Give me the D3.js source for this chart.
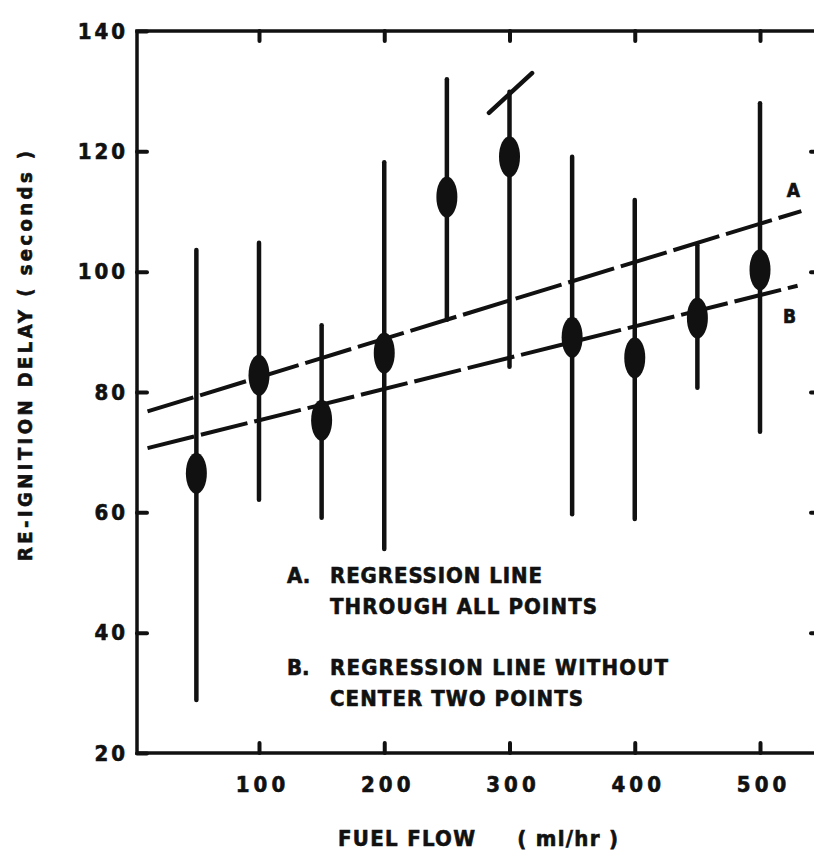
<!DOCTYPE html>
<html>
<head>
<meta charset="utf-8">
<script src="https://cdn.jsdelivr.net/npm/d3@7"></script>
<style>
    body { margin: 0; background: #fff; }
    svg text { font-family: "DejaVu Sans Condensed", "DejaVu Sans", sans-serif; font-weight: bold; fill: #111; stroke: #111; stroke-width: 0.6px; }
    .axis path { display: none; }
    .axis line { stroke: #111; stroke-width: 4; stroke-linecap: round; }
</style>
</head>
<body>
<script>

// values
var fuelFlow  = [50, 100, 150, 200, 250, 300, 350, 400, 450, 500];
var delayMean = [66.5, 82.8, 75.3, 86.5, 112.4, 119.1, 89.1, 85.7, 92.3, 100.3];
var delayHigh = [103.6, 104.8, 91.1, 118.2, 132, 129.9, 119.1, 111.9, 104.4, 128];
var delayLow  = [28.8, 62.1, 59.1, 53.9, 92, 84.2, 59.7, 58.9, 80.7, 73.4];

var xTicks = [100, 200, 300, 400, 500];
var yTicks = [20, 40, 60, 80, 100, 120, 140];

// regression lines A and B
var regNames = ["A", "B"];
var regSlope = [0.0638, 0.052];
var regIntercept = [76.07, 70.1];
var regFrom = [11, 11];
var regTo = [533, 530];

// broken-off top of the 300 bar
var breakMark = [[283.6, 126.4], [318, 133]];

var legendLines = [
    { key: "A.", lines: ["REGRESSION LINE", "THROUGH ALL POINTS"] },
    { key: "B.", lines: ["REGRESSION LINE WITHOUT", "CENTER TWO POINTS"] }
];

var width = 814, height = 850;

var svg = d3.select("body").append("svg")
    .attr("width", width)
    .attr("height", height);

var x = d3.scaleLinear().domain([2.6, 545.5]).range([137, 817]);
var y = d3.scaleLinear().domain([20, 140]).range([753, 31]);

// frame
svg.append("rect")
    .attr("x", x.range()[0])
    .attr("y", y.range()[1])
    .attr("width", x.range()[1] - x.range()[0])
    .attr("height", y.range()[0] - y.range()[1])
    .style("fill", "none")
    .style("stroke", "#111")
    .style("stroke-width", 3.5);

// bottom axis with labels
var gx = svg.append("g")
    .attr("class", "x axis")
    .attr("transform", "translate(0," + y(20) + ")")
    .call(d3.axisBottom(x).tickValues(xTicks).tickSize(-10).tickPadding(23).tickFormat(d3.format("d")));
gx.selectAll("text")
    .style("font-size", "22px")
    .style("letter-spacing", "4px")
    .attr("dx", "3px");

// top axis, ticks only
svg.append("g")
    .attr("class", "axis")
    .attr("transform", "translate(0," + y(140) + ")")
    .call(d3.axisTop(x).tickValues(xTicks).tickSize(-10).tickFormat(""));

// left axis
var gy = svg.append("g")
    .attr("class", "y axis")
    .attr("transform", "translate(" + x.range()[0] + ",0)")
    .call(d3.axisLeft(y).tickValues(yTicks).tickSize(-10).tickPadding(9).tickFormat(d3.format("d")));
gy.selectAll("text")
    .style("font-size", "22px")
    .style("letter-spacing", "3px");

// right axis, ticks only
svg.append("g")
    .attr("class", "axis")
    .attr("transform", "translate(" + x.range()[1] + ",0)")
    .call(d3.axisRight(y).tickValues(yTicks.slice(1, -1)).tickSize(-6).tickFormat(""));

// regression lines
regNames.forEach(function(name, i) {
    svg.append("line")
        .attr("class", "reg-line")
        .attr("x1", x(regFrom[i]))
        .attr("y1", y(regIntercept[i] + regSlope[i] * regFrom[i]))
        .attr("x2", x(regTo[i]))
        .attr("y2", y(regIntercept[i] + regSlope[i] * regTo[i]))
        .style("stroke", "#111")
        .style("stroke-width", 4)
        .style("stroke-dasharray", "48,7");

    svg.append("text")
        .attr("x", x(regTo[i]) - 8)
        .attr("y", y(regIntercept[i] + regSlope[i] * regTo[i]) + (i === 0 ? -14 : 37))
        .style("font-size", "19px")
        .style("text-anchor", "middle")
        .text(name);
});

// error bars
var points = fuelFlow.map(function(f, i) {
    return { flow: f, mean: delayMean[i], hi: delayHigh[i], lo: delayLow[i] };
});

svg.selectAll(".bar")
    .data(points)
    .enter().append("line")
    .attr("class", "bar")
    .attr("x1", function(d) { return x(d.flow); })
    .attr("x2", function(d) { return x(d.flow); })
    .attr("y1", function(d) { return y(d.hi); })
    .attr("y2", function(d) { return y(d.lo); })
    .style("stroke", "#111")
    .style("stroke-width", 4.5)
    .style("stroke-linecap", "round");

svg.selectAll(".dot")
    .data(points)
    .enter().append("ellipse")
    .attr("class", "dot")
    .attr("cx", function(d) { return x(d.flow); })
    .attr("cy", function(d) { return y(d.mean); })
    .attr("rx", 10.5)
    .attr("ry", 20.5)
    .style("fill", "#111");

svg.append("line")
    .attr("x1", x(breakMark[0][0]))
    .attr("y1", y(breakMark[0][1]))
    .attr("x2", x(breakMark[1][0]))
    .attr("y2", y(breakMark[1][1]))
    .style("stroke", "#111")
    .style("stroke-width", 4.5)
    .style("stroke-linecap", "round");

// legend
var lineWidths = [[212, 267], [338, 253]];
legendLines.forEach(function(item, i) {
    var top = 583 + i * 92;
    svg.append("text")
        .attr("x", 287)
        .attr("y", top)
        .style("font-size", "22px")
        .text(item.key);
    item.lines.forEach(function(t, j) {
        svg.append("text")
            .attr("x", 330)
            .attr("y", top + j * 31)
            .attr("textLength", lineWidths[i][j])
            .style("font-size", "22px")
            .text(t);
    });
});

// axis titles
svg.append("text")
    .attr("x", 338)
    .attr("y", 846)
    .attr("textLength", 280)
    .style("font-size", "22px")
    .style("white-space", "pre")
    .text("FUEL FLOW     ( ml/hr )");

svg.append("text")
    .attr("transform", "translate(32,356) rotate(-90)")
    .attr("textLength", 410)
    .style("font-size", "20px")
    .style("text-anchor", "middle")
    .text("RE-IGNITION DELAY ( seconds )");

</script>
</body>
</html>
